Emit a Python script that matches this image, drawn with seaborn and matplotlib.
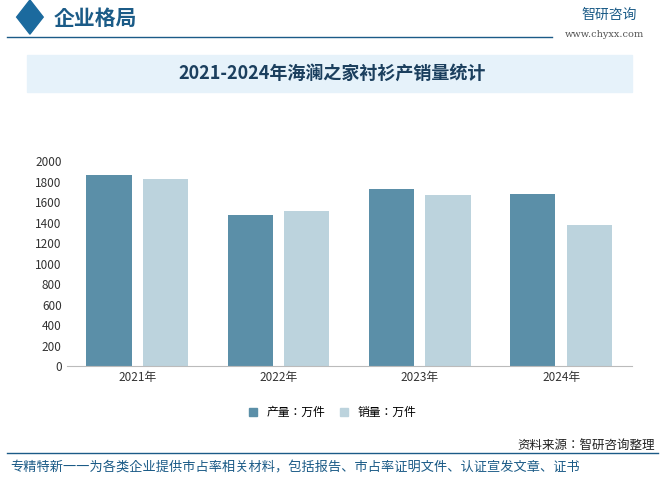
import matplotlib
matplotlib.use("Agg")
import matplotlib.pyplot as plt
from matplotlib import font_manager
from matplotlib.patches import Patch
import seaborn as sns
import pandas as pd

# find an installed CJK font
cjk = None
for f in font_manager.fontManager.ttflist:
    if "CJK" in f.name and ("SC" in f.name or cjk is None):
        cjk = f.name
        if "SC" in f.name:
            break
plt.rcParams["font.family"] = "sans-serif"
plt.rcParams["font.sans-serif"] = [cjk or "Noto Sans CJK SC", "DejaVu Sans"]

years = ["2021年", "2022年", "2023年", "2024年"]
production = [1860, 1470, 1730, 1680]
sales = [1820, 1510, 1670, 1380]
series = ["产量：万件", "销量：万件"]

df = pd.DataFrame({
    "year": years * 2,
    "value": production + sales,
    "series": [series[0]] * 4 + [series[1]] * 4,
})

fig = plt.figure(figsize=(6.65, 4.88), dpi=100)
ax = fig.add_axes([0.1, 0.25, 0.85, 0.42])

sns.barplot(data=df, x="year", y="value", hue="series", saturation=1,
            palette=["#5b8fa8", "#bcd3dd"], width=0.8, gap=0.2, ax=ax, legend=False)

ax.set_ylim(0, 2000)
ax.set_yticks(range(0, 2001, 200))
ax.set_xlabel("")
ax.set_ylabel("")
ax.tick_params(axis="both", length=0, labelsize=8.5, colors="#333333")
for s in ["top", "right", "left"]:
    ax.spines[s].set_visible(False)
ax.spines["bottom"].set_color("#bbbbbb")

handles = [Patch(color="#5b8fa8"), Patch(color="#bcd3dd")]
fig.legend(handles, series, loc="center", bbox_to_anchor=(0.5, 0.155), ncol=2,
           frameon=False, fontsize=8.5, handlelength=0.7, handleheight=0.7, columnspacing=1.2)

# header
fig.patches.append(plt.Polygon([[0.025, 0.965], [0.045, 0.93], [0.065, 0.965], [0.045, 1.0]],
                               closed=True, transform=fig.transFigure, color="#1b6a9e"))
fig.text(0.08, 0.963, "企业格局", fontsize=15, color="#1b5b87", va="center", weight="bold")
fig.text(0.875, 0.97, "智研咨询", fontsize=10, color="#1b5b87", va="center")
fig.text(0.85, 0.93, "www.chyxx.com", fontsize=7, color="#555555", va="center", family="DejaVu Serif")
fig.add_artist(plt.Line2D([0.01, 0.83], [0.924, 0.924], color="#1b5b87", lw=1, transform=fig.transFigure))

# title band
fig.patches.append(plt.Rectangle((0.04, 0.812), 0.91, 0.075, transform=fig.transFigure,
                                 color="#e6f2fa"))
fig.text(0.5, 0.849, "2021-2024年海澜之家衬衫产销量统计", fontsize=13, color="#1b3f5e",
         ha="center", va="center", weight="bold")

# footer
fig.add_artist(plt.Line2D([0.01, 0.99], [0.072, 0.072], color="#1b5b87", lw=1, transform=fig.transFigure))
fig.text(0.985, 0.087, "资料来源：智研咨询整理", fontsize=9, color="#222222", ha="right", va="center")
fig.text(0.015, 0.04, "专精特新一一为各类企业提供市占率相关材料，包括报告、市占率证明文件、认证宣发文章、证书",
         fontsize=9.5, color="#1b5b87", va="center")

fig.savefig("out.png", dpi=100)
